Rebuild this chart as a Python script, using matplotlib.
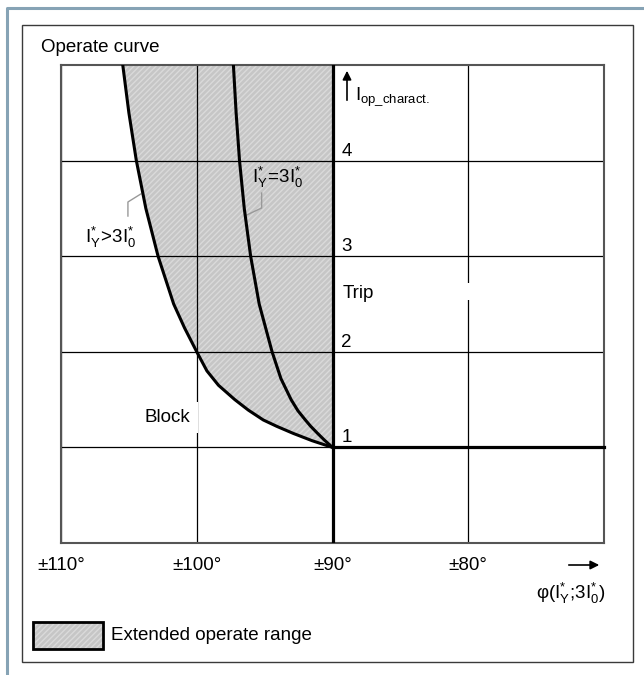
import matplotlib
matplotlib.use('Agg')
import matplotlib.pyplot as plt
from matplotlib.patches import Rectangle
from matplotlib.lines import Line2D

plt.rcParams['font.family'] = ['Liberation Sans', 'DejaVu Sans']
plt.rcParams['mathtext.fontset'] = 'custom'
plt.rcParams['mathtext.rm'] = 'Liberation Sans'
plt.rcParams['mathtext.it'] = 'Liberation Sans:italic'
plt.rcParams['hatch.linewidth'] = 1.0

# data (phase angle in degrees, I_op_charact.)
x_ticks = [110, 100, 90, 80, 70]
x_tick_labels = ['±110°', '±100°', '±90°', '±80°', '']
y_levels = [1, 2, 3, 4]

# curve I_Y* = 3I_0*
eq_y = [1.0, 1.077, 1.147, 1.22, 1.287, 1.384, 1.5, 1.72, 2.0, 2.5, 3.0, 3.5, 4.0, 4.5, 5.0]
eq_phi = [90.0, 90.6, 91.1, 91.6, 92.0, 92.55, 93.05, 93.8, 94.45, 95.4, 96.03, 96.5, 96.85, 97.1, 97.3]

# curve I_Y* > 3I_0* (boundary of extended operate range)
gt_y = [1.0, 1.07, 1.147, 1.22, 1.287, 1.39, 1.5, 1.65, 1.8, 2.0, 2.25, 2.5, 3.0, 3.5, 4.0, 4.5, 5.0]
gt_phi = [90.0, 91.5, 92.9, 94.1, 95.1, 96.2, 97.2, 98.4, 99.25, 100.0, 100.9, 101.7,
          102.85, 103.75, 104.45, 105.0, 105.45]

W, H = 644, 675


def fx(x):
    return x / W


def fy(y):
    return 1 - y / H


fig = plt.figure(figsize=(W / 100, H / 100), dpi=100)
ax = fig.add_axes([fx(61), fy(543), (604 - 61) / W, (543 - 65) / H])
ax.set_xlim(110, 70)
ax.set_ylim(0, 5)

# shaded extended operate range
ax.fill_betweenx(gt_y, gt_phi, 90, facecolor='#c6c6c6', edgecolor='#dadada',
                 hatch='//////', linewidth=0, zorder=1)

# grid
ax.set_xticks(x_ticks, labels=x_tick_labels)
ax.set_yticks(y_levels, labels=[])
ax.tick_params(length=0, labelsize=13.5, pad=10)
ax.grid(True, color='black', linewidth=0.9)
for s in ax.spines.values():
    s.set_color('#555555')
    s.set_linewidth(1.5)

# thick lines
ax.axvline(90, color='black', linewidth=2.3, zorder=3)
ax.plot([90, 70], [1, 1], color='black', linewidth=2.3, zorder=3, clip_on=False)

# curves
ax.plot(gt_phi, gt_y, color='black', linewidth=2.2, zorder=4, solid_joinstyle='round')
ax.plot(eq_phi, eq_y, color='black', linewidth=2.2, zorder=4, solid_joinstyle='round')

# level labels
for v in y_levels:
    ax.text(89.35, v + 0.052, str(v), fontsize=13.5, va='baseline', ha='left')

ax.text(89.26, 2.563, 'Trip', fontsize=13.5, va='baseline', ha='left')
ax.add_patch(Rectangle((80.25, 2.54), -0.5, 0.18, facecolor='white', edgecolor='none', zorder=2))
ax.text(103.82, 1.266, 'Block', fontsize=13.5, va='baseline', ha='left',
        bbox=dict(facecolor='white', edgecolor='none', pad=5), zorder=2)

# curve labels with leader lines
ax.text(95.96, 3.766, r'$\mathregular{I_Y^{*}\!=\!3I_0^{*}}$', fontsize=13.5, va='baseline', ha='left')
ax.plot([95.22, 95.22, 96.32], [3.661, 3.504, 3.431], color='#999999', linewidth=1, zorder=3)
ax.text(108.24, 3.138, r'$\mathregular{I_Y^{*}\!>\!3I_0^{*}}$', fontsize=13.5, va='baseline', ha='left')
ax.plot([105.07, 105.07, 104.12], [3.42, 3.567, 3.651], color='#999999', linewidth=1, zorder=3)

# figure decorations
fig.add_artist(Line2D([fx(7), fx(7), 1], [0, fy(8), fy(8)], color='#86a3b5', linewidth=2.2))
fig.add_artist(Rectangle((fx(22), fy(662)), (633 - 22) / W, (662 - 25) / H, fill=False,
                         edgecolor='#3a3a3a', linewidth=1, transform=fig.transFigure))

fig.text(fx(41), fy(47), 'Operate curve', fontsize=13.5, va='center', ha='left')

ax.annotate('', xy=(fx(347), fy(68)), xytext=(fx(347), fy(103)), xycoords='figure fraction',
            arrowprops=dict(arrowstyle='-|>', color='black', lw=1.2, mutation_scale=13))
fig.text(fx(355), fy(100), r'$\mathregular{I_{op\_charact.}}$', fontsize=13.5, va='baseline', ha='left')

ax.annotate('', xy=(fx(602), fy(565)), xytext=(fx(566), fy(565)), xycoords='figure fraction',
            arrowprops=dict(arrowstyle='-|>', color='black', lw=1.2, mutation_scale=13))
fig.text(fx(605), fy(599), r'$\mathregular{φ(I_Y^{*};\!3I_0^{*})}$', fontsize=13.5,
         va='baseline', ha='right')

# legend
fig.add_artist(Rectangle((fx(33), fy(649)), 70 / W, 27 / H, facecolor='#c6c6c6', edgecolor='#dadada',
                         hatch='//////', linewidth=0, transform=fig.transFigure))
fig.add_artist(Rectangle((fx(33), fy(649)), 70 / W, 27 / H, fill=False, edgecolor='black',
                         linewidth=2, transform=fig.transFigure))
fig.text(fx(111), fy(636), 'Extended operate range', fontsize=13.5, va='center', ha='left')

fig.savefig('out.png', dpi=100)
